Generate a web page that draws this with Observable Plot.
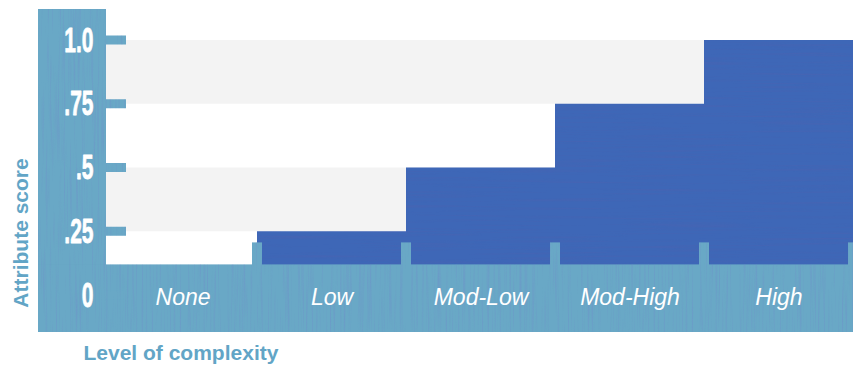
<!DOCTYPE html>
<html>
<head>
<meta charset="utf-8">
<script src="https://cdn.jsdelivr.net/npm/d3@7"></script>
<script src="https://cdn.jsdelivr.net/npm/@observablehq/plot@0.6"></script>
<style>
  html, body { margin: 0; padding: 0; background: #ffffff; }
  #chart svg { display: block; }
</style>
</head>
<body>
<div id="chart"></div>
<script>
// Attribute score by level of complexity
const categories = ["None", "Low", "Mod-Low", "Mod-High", "High"];
const scores = [0, 0.25, 0.5, 0.75, 1.0];

const yTicks = [0, 0.25, 0.5, 0.75, 1.0];
const yTickLabels = ["0", ".25", ".5", ".75", "1.0"];

// alternating shaded bands behind the bars
const bandLows = [0.75, 0.25];
const bandHighs = [1.0, 0.5];

const yTitle = "Attribute score";
const xTitle = "Level of complexity";

const panelColor = "#69a8c6";
const barColor = "#3e67b7";
const bandColor = "#f3f3f3";
const titleColor = "#62a5c6";
const sansFont = "'Liberation Sans', Arial, Helvetica, sans-serif";

// value at which the lower frame starts covering the plot
const floor = 0.12;

const rows = categories.map((c, i) => ({level: c, score: scores[i]}));
const bands = bandLows.map((lo, i) => ({lo, hi: bandHighs[i]}));

// streaky paint texture: a noise layer tinted and clipped to the shape
function addStreakFilter(defs, id, freq, seed, tint, strength) {
  const f = defs.append("filter").attr("id", id)
    .attr("x", "0").attr("y", "0").attr("width", "1").attr("height", "1")
    .attr("color-interpolation-filters", "sRGB");
  f.append("feTurbulence")
    .attr("type", "fractalNoise").attr("baseFrequency", freq)
    .attr("numOctaves", 3).attr("seed", seed).attr("result", "noise");
  f.append("feColorMatrix").attr("in", "noise").attr("type", "matrix")
    .attr("values", `0 0 0 0 ${tint[0]}  0 0 0 0 ${tint[1]}  0 0 0 0 ${tint[2]}  ${strength} 0 0 0 ${-strength * 0.5}`)
    .attr("result", "tint");
  f.append("feComposite").attr("in", "tint").attr("in2", "SourceGraphic")
    .attr("operator", "in").attr("result", "clipped");
  const m = f.append("feMerge");
  m.append("feMergeNode").attr("in", "SourceGraphic");
  m.append("feMergeNode").attr("in", "clipped");
}

// painted frame: left column, bottom strip, tick tabs and category dividers
function frame(index, {x, y}, values, {width, height, marginLeft}) {
  const g = d3.create("svg:g");
  const defs = g.append("defs");
  addStreakFilter(defs, "streak-frame", "0.5 0.012", 4, [0.45, 0.48, 0.8], 0.7);
  addStreakFilter(defs, "streak-bar", "0.008 0.45", 9, [0.38, 0.36, 0.66], 0.55);

  const paint = g.append("g").attr("filter", "url(#streak-frame)");
  const left = 38, top = 9, bottom = height - 33;
  const floorY = y(floor);
  paint.append("rect")
    .attr("x", left).attr("y", top)
    .attr("width", marginLeft - left).attr("height", bottom - top)
    .attr("fill", panelColor);
  paint.append("rect")
    .attr("x", left).attr("y", floorY)
    .attr("width", width - left).attr("height", bottom - floorY)
    .attr("fill", panelColor);
  for (const v of yTicks) {
    paint.append("rect")
      .attr("x", marginLeft - 1).attr("y", y(v) - 4.5)
      .attr("width", 21).attr("height", 9)
      .attr("fill", panelColor);
  }
  // dividers on the right edge of every category band
  const step = x(categories[1]) - x(categories[0]);
  for (const c of categories) {
    paint.append("rect")
      .attr("x", x(c) + step - 5).attr("y", floorY - 22)
      .attr("width", 10).attr("height", 23)
      .attr("fill", panelColor);
  }

  // rotated y-axis title
  g.append("text")
    .attr("transform", `translate(28,${y(0) - 62}) rotate(-90)`)
    .attr("text-anchor", "middle")
    .attr("fill", titleColor)
    .attr("font-family", sansFont)
    .attr("font-weight", "bold")
    .attr("font-size", 21)
    .text(yTitle);
  return g.node();
}

const chart = Plot.plot({
  width: 853,
  height: 365,
  marginTop: 40,
  marginBottom: 70,
  marginLeft: 106,
  marginRight: 0,
  style: {background: "#ffffff", overflow: "visible"},
  x: {domain: categories, range: [106.5, 855], padding: 0, axis: null},
  y: {domain: [0, 1], axis: null},
  marks: [
    Plot.rectY(bands, {y1: "lo", y2: "hi", fill: bandColor}),
    Plot.barY(rows, {x: "level", y: "score", fill: barColor, inset: 0}),
    frame,
    Plot.text(yTicks, {
      y: d => d,
      text: (d, i) => yTickLabels[i],
      frameAnchor: "left",
      dx: -13,
      textAnchor: "end",
      fill: "#ffffff",
      stroke: "#ffffff",
      strokeWidth: 0.8,
      fontFamily: sansFont,
      fontWeight: "bold",
      fontSize: 35
    }),
    Plot.text(categories, {
      x: d => d,
      y: () => 0,
      text: d => d,
      dy: 2,
      fill: "#ffffff",
      fontFamily: sansFont,
      fontStyle: "italic",
      fontSize: 23
    }),
    Plot.text([xTitle], {
      frameAnchor: "bottom-left",
      text: d => d,
      textAnchor: "start",
      lineAnchor: "bottom",
      dx: -23,
      dy: 64,
      fill: titleColor,
      fontFamily: sansFont,
      fontWeight: "bold",
      fontSize: 21
    })
  ]
});

// bars get the horizontal brush texture
d3.select(chart).selectAll('g[aria-label="bar"]').attr("filter", "url(#streak-bar)");

// condense the tall tick numerals around their right edge
d3.select(chart).selectAll("text").each(function () {
  if (yTickLabels.includes(this.textContent)) {
    const t = this.getAttribute("transform") || "";
    this.setAttribute("transform", t + " scale(0.6,1)");
  }
});

document.getElementById("chart").appendChild(chart);
</script>
</body>
</html>
